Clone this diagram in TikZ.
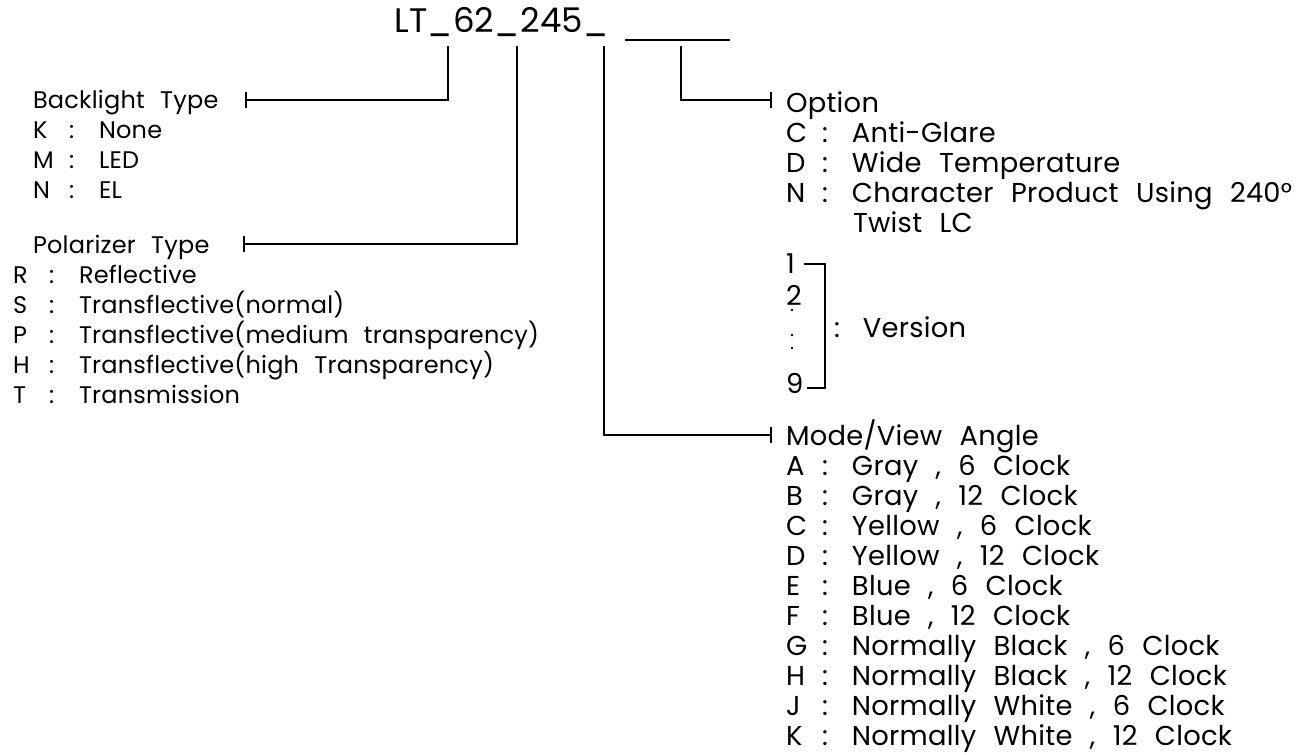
\documentclass[tikz,border=0pt]{standalone}
\usepackage{fontspec}
\setmainfont{Poppins}[LetterSpace=1, WordSpace=2.3]
\usetikzlibrary{arrows.meta}
\newcommand{\leftfont}{\fontsize{18}{22}\selectfont}
\newcommand{\rightfont}{\fontsize{20.5}{25}\selectfont}
\newcommand{\titlefont}{\fontsize{25.5}{30}\selectfont}
\newcommand{\kv}[2]{\makebox[27pt][l]{#1}\makebox[22.5pt][l]{:}#2}

\begin{document}
\begin{tikzpicture}[x=0.75pt, y=-0.75pt, line width=1.5pt,
  lbl/.style={anchor=base west, inner sep=0pt, font=\leftfont},
  rlbl/.style={lbl, font=\rightfont},
  lead/.style={-{Bar[width=12pt, line width=1.5pt]}}]
  \useasboundingbox (0,0) rectangle (1302,754);

  % Part number + blank
  \node[lbl, font=\titlefont] (title) at (393,32) {LT\_62\_245\_};
  \draw ([shift={(16,8)}]title.base east) -- ++(105,0);
  \coordinate (u1) at (448,46);
  \coordinate (u2) at (517,46);
  \coordinate (u3) at (604,46);
  \coordinate (u4) at (681,46);

  % Backlight
  \node[lbl] (back) at (32,108) {Backlight Type};
  \foreach \k/\d [count=\i] in {K/None, M/LED, N/EL}
    \node[lbl] (back\k) at (32,{108+30*\i}) {\kv{\k}{\d}};
  \draw[lead] (u1) |- ([shift={(25,-8)}]back.base east);

  % Polarizer
  \node[lbl] (pol) at (32,253) {Polarizer Type};
  \foreach \k/\d [count=\i] in {R/Reflective, S/Transflective(normal),
      P/Transflective(medium transparency), H/Transflective(high Transparency),
      T/Transmission}
    \node[lbl] (pol\k) at (12,{253+30*\i}) {\kv{\k}{\d}};
  \draw[lead] (u2) |- ([shift={(32,-9)}]pol.base east);

  % Option
  \node[rlbl] (opt) at (785,112) {Option};
  \foreach \k/\d [count=\i] in {C/Anti-Glare, D/Wide Temperature,
      N/Character Product Using 240°}
    \node[rlbl] (opt\k) at (785,{112+30*\i}) {\kv{\k}{\d}};
  \node[rlbl] (twist) at (852,232) {Twist LC};
  \draw[lead] (u4) |- ([shift={(-13,-12)}]opt.base west);

  % Version
  \node[rlbl] (v1) at (785,273) {1};
  \node[rlbl] (v2) at (785,305) {2};
  \node[rlbl] (v9) at (785,393) {9};
  \foreach \y in {310,335,348}
    \fill (792,\y) circle (1.1pt);
  \draw ([shift={(8,-9)}]v1.base east) -- (825,264) |- ([shift={(3,-5)}]v9.base east);
  \node[rlbl] (ver) at (833,337) {\makebox[21.75pt][l]{:}Version};

  % Mode / view angle
  \node[rlbl] (mode) at (785,445) {Mode/View Angle};
  \foreach \k/\d [count=\i] in {A/{Gray , 6 Clock}, B/{Gray , 12 Clock},
      C/{Yellow , 6 Clock}, D/{Yellow , 12 Clock}, E/{Blue , 6 Clock},
      F/{Blue , 12 Clock}, G/{Normally Black , 6 Clock},
      H/{Normally Black , 12 Clock}, J/{Normally White , 6 Clock},
      K/{Normally White , 12 Clock}}
    \node[rlbl] (mode\k) at (785,{445+30*\i}) {\kv{\k}{\d}};
  \draw[lead] (u3) |- ([shift={(-13,-10)}]mode.base west);
\end{tikzpicture}
\end{document}
